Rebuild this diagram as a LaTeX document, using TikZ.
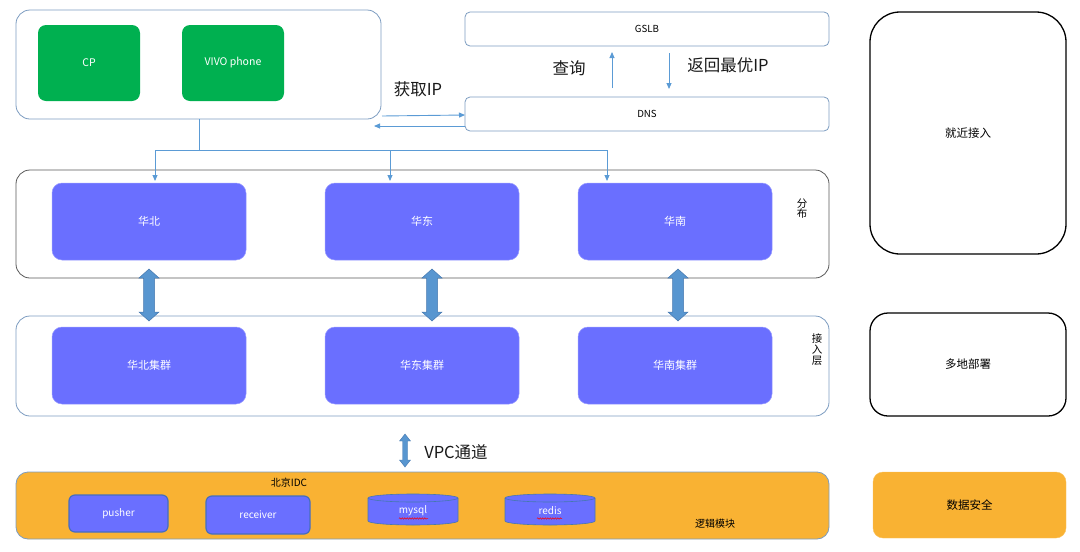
\documentclass[tikz,border=0pt]{standalone}
\usepackage{fontspec}
\setmainfont{Noto Sans CJK SC}
\usetikzlibrary{arrows.meta,decorations.pathmorphing}
\definecolor{cgreen}{RGB}{0,176,80}
\definecolor{cpurp}{RGB}{106,111,255}
\definecolor{corange}{RGB}{249,178,51}
\definecolor{cblue}{RGB}{91,155,213}
\definecolor{cbord}{RGB}{124,156,192}
\definecolor{cdark}{RGB}{89,89,89}
\definecolor{cfat}{RGB}{88,150,208}
\definecolor{cfatb}{RGB}{70,120,175}
\definecolor{cbox}{RGB}{70,110,190}
\newcommand\fatarrow[3]{% x, ytop, ybot
  \filldraw[fill=cfat,draw=cfatb,line width=0.5pt]
   (#1,#2) -- ({#1+10},{#2+9}) -- ({#1+5.5},{#2+9}) -- ({#1+5.5},{#3-9}) -- ({#1+10},{#3-9})
   -- (#1,#3) -- ({#1-10},{#3-9}) -- ({#1-5.5},{#3-9}) -- ({#1-5.5},{#2+9}) -- ({#1-10},{#2+9}) -- cycle;}
\newcommand\cylshape[4]{% xl, xr, ytop, ybot
  \filldraw[fill=cpurp,draw=cfatb,line width=0.6pt]
   (#1,{#3}) -- (#1,{#4}) arc[start angle=180,end angle=0,x radius={(#2-#1)/2},y radius=4] -- (#2,{#3});
  \filldraw[fill=cpurp,draw=cfatb,line width=0.6pt]
   ({(#1+#2)/2},{#3}) ellipse[x radius={(#2-#1)/2},y radius=4];}
\tikzset{
  box/.style={anchor=north west,inner sep=0pt,outer sep=0pt},
  cont/.style={box,draw=cbord,line width=0.8pt,rounded corners=14pt},
  greenbox/.style={box,fill=cgreen,rounded corners=8pt,text=white,font=\fontsize{10.5}{12}\selectfont},
  purpbox/.style={box,fill=cpurp,draw=cpurp!70!white,line width=0.5pt,rounded corners=10pt,text=white,font=\fontsize{11}{12}\selectfont},
  plainbox/.style={box,draw=cbord,line width=0.8pt,rounded corners=5pt,font=\fontsize{9.7}{11}\selectfont},
  sidebox/.style={box,draw=black,line width=1.3pt,font=\fontsize{11.5}{13}\selectfont},
  modbox/.style={box,fill=cpurp,draw=cbox,line width=1.2pt,rounded corners=6pt,text=white,font=\fontsize{10}{12}\selectfont},
  conn/.style={draw=cblue,line width=0.9pt},
  arr/.style={conn,-{Triangle[length=6pt,width=5pt]}},
  big/.style={font=\fontsize{16.5}{18}\selectfont,text=black!90},
  small/.style={font=\fontsize{10}{12}\selectfont},
  squig/.style={draw=red,line width=0.5pt,decorate,decoration={snake,amplitude=0.7pt,segment length=2.5pt}}
}
\begin{document}
\begin{tikzpicture}[x=1pt,y=-1pt]
\useasboundingbox (0,0) rectangle (1080,552);
% top-left client container
\node[cont,minimum width=365,minimum height=109] (client) at (16,10) {};
\node[greenbox,minimum width=102,minimum height=76] (cp) at (38,25) {CP};
\node[greenbox,minimum width=102,minimum height=76] (vivo) at (182,25) {VIVO phone};
% GSLB / DNS
\node[plainbox,minimum width=364,minimum height=34] (gslb) at (465,12) {GSLB};
\node[plainbox,minimum width=364,minimum height=34] (dns) at (465,97) {DNS};
\node[big] (q) at (569,68) {查询};
\node[big] (ret) at (728,65) {返回最优IP};
\node[big] (get) at (418,89) {获取IP};
\coordinate (qa) at (612,88); \coordinate (qb) at (612,52);
\coordinate (ra) at (669,53); \coordinate (rb) at (669,89);
\draw[arr] (qa) -- (qb);
\draw[arr] (ra) -- (rb);
\coordinate (g1) at (382,116);
\coordinate (g2) at (374,126);
\draw[arr] (g1) -- (dns.west |- 0,115);
\draw[arr] (dns.west |- 0,126) -- (g2);
% distribution container
\node[cont,draw=cdark,minimum width=813,minimum height=108] (dist) at (16,170) {};
\node[purpbox,minimum width=194,minimum height=77] (hb) at (52,183) {华北};
\node[purpbox,minimum width=194,minimum height=77] (hd) at (325,183) {华东};
\node[purpbox,minimum width=194,minimum height=77] (hn) at (578,183) {华南};
\node[font=\fontsize{10.5}{12}\selectfont,align=center] (fb) at (802,209) {分\\[-2pt]布};
% connectors from client
\coordinate (split) at (199,150);
\coordinate (t1) at (155,181); \coordinate (t2) at (390,181); \coordinate (t3) at (607,181);
\draw[conn] (client.south -| split) -- (split);
\draw[arr] (split) -| (t1);
\draw[arr] (split) -| (t2);
\draw[arr] (split) -| (t3);
% access container
\node[cont,minimum width=813,minimum height=100] (acc) at (16,316) {};
\node[purpbox,minimum width=194,minimum height=77] (hbj) at (52,327) {华北集群};
\node[purpbox,minimum width=194,minimum height=77] (hdj) at (325,327) {华东集群};
\node[purpbox,minimum width=194,minimum height=77] (hnj) at (578,327) {华南集群};
\node[font=\fontsize{10.5}{12}\selectfont,align=center] (jr) at (817,350) {接\\[-1pt]入\\[-1pt]层};
% fat arrows
\fatarrow{149}{269}{321}
\fatarrow{432}{269}{321}
\fatarrow{678}{269}{321}
% VPC arrow
\filldraw[fill=cfat,draw=cfatb,line width=0.4pt]
  (405,434) -- (410.5,441) -- (407.5,441) -- (407.5,460) -- (410.5,460) -- (405,467)
  -- (399.5,460) -- (402.5,460) -- (402.5,441) -- (399.5,441) -- cycle;
\node[big] (vpc) at (456,452) {VPC通道};
% bottom IDC
\node[cont,fill=corange,rounded corners=12pt,minimum width=813,minimum height=67] (idc) at (16,472) {};
\node[small] (bj) at (289,483) {北京IDC};
\node[modbox,minimum width=99,minimum height=37] (pusher) at (69,495) {pusher};
\node[modbox,minimum width=104,minimum height=38] (recv) at (206,496) {receiver};
\cylshape{368}{458}{498}{521}
\cylshape{505}{595}{498}{521}
\node[text=white,font=\fontsize{10}{12}\selectfont] (mysql) at (413,511) {mysql};
\node[text=white,font=\fontsize{10}{12}\selectfont] (redis) at (550,511) {redis};
\draw[squig] (399,518.5) -- (428,518.5);
\draw[squig] (537,518.5) -- (562,518.5);
\node[small] (lj) at (715,524) {逻辑模块};
% right column
\node[sidebox,rounded corners=30pt,minimum width=196,minimum height=242] (jj) at (870,12) {};
\node[font=\fontsize{11.5}{13}\selectfont] at (jj.center) {就近接入};
\node[sidebox,rounded corners=18pt,minimum width=196,minimum height=103] (dd) at (870,313) {多地部署};
\node[box,fill=corange,draw=corange!80!white,rounded corners=10pt,minimum width=193,minimum height=66,font=\fontsize{11.5}{13}\selectfont] (sec) at (873,472) {数据安全};
\end{tikzpicture}
\end{document}
